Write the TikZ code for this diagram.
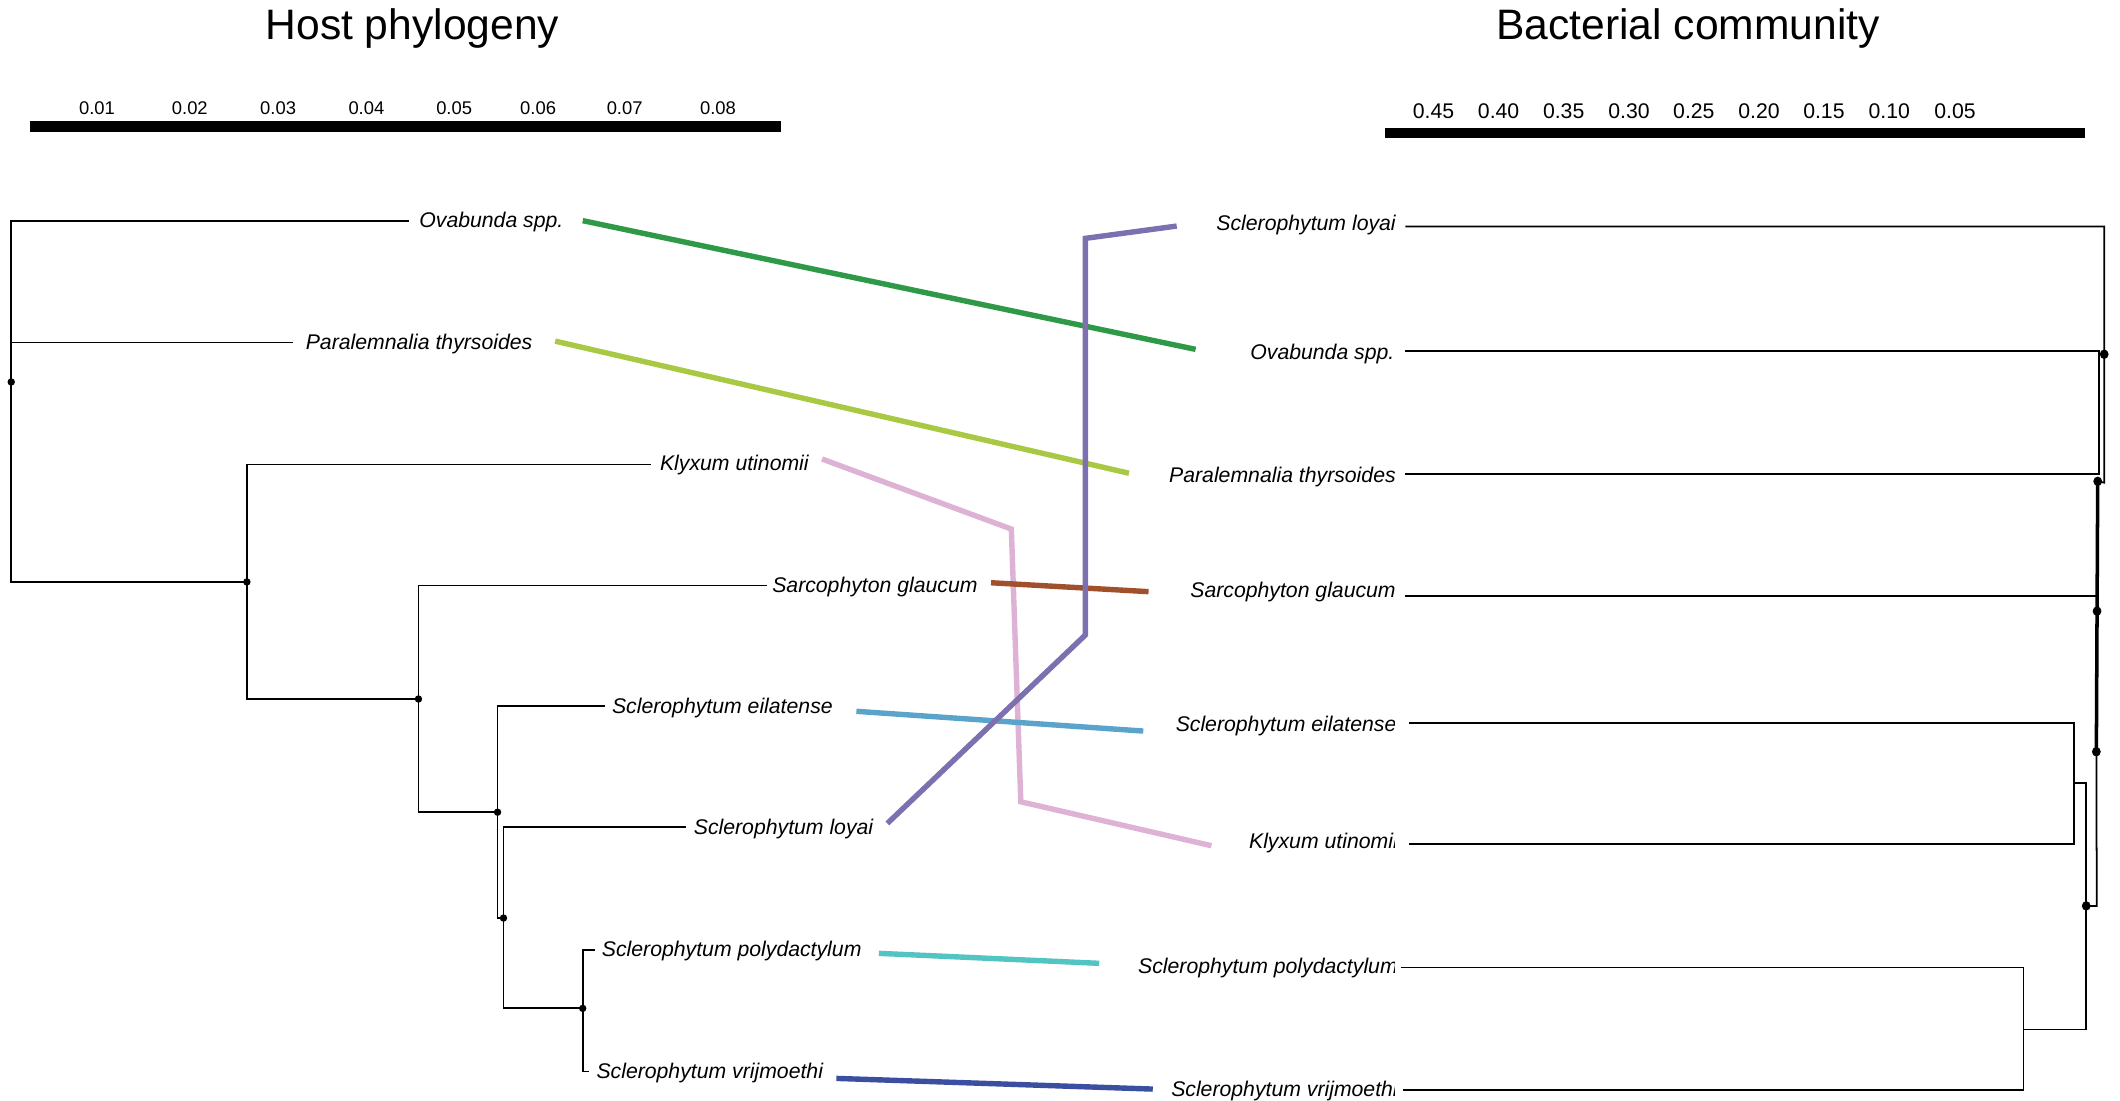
\documentclass[tikz,border=0pt]{standalone}
\usepackage{fontspec}
\setmainfont{Liberation Sans}
\usetikzlibrary{shapes.geometric}
\definecolor{cgreen}{HTML}{2E9A48}
\definecolor{cyellow}{HTML}{A9C843}
\definecolor{cpink}{HTML}{DDB2D5}
\definecolor{cbrown}{HTML}{A0502A}
\definecolor{cblue}{HTML}{5AA3CB}
\definecolor{cpurple}{HTML}{7C70B0}
\definecolor{cteal}{HTML}{52C4C2}
\definecolor{cnavy}{HTML}{3B4FA0}
\begin{document}
\begin{tikzpicture}[x=1pt,y=-1pt,
  tree/.style={line width=1.3pt, line cap=rect},
  thick tree/.style={line width=2.6pt},
  link/.style={line width=4pt},
  sp/.style={font=\fontsize{15.7}{18}\selectfont\itshape, inner sep=0pt, text height=11pt, text depth=3.5pt, yshift=-1.5pt},
  ttl/.style={font=\fontsize{31.5}{36}\selectfont, inner sep=0pt},
  tickl/.style={font=\fontsize{13.6}{16}\selectfont, inner sep=0pt},
  tickr/.style={font=\fontsize{15.7}{18}\selectfont, inner sep=0pt},
  dotl/.style={fill, circle, inner sep=0pt, minimum size=5.5pt},
  dotr/.style={fill, ellipse, inner sep=0pt, minimum width=6.5pt, minimum height=7pt},
  scalebar/.style={line width=8pt}
]
\useasboundingbox (0,0) rectangle (1568,814);

% ---------- titles ----------
\node[ttl] (t1) at (305,21) {Host phylogeny};
\node[ttl] (t2) at (1248.5,21) {Bacterial community};

% ---------- scale bars ----------
\coordinate (sl1) at (22,93.3);  \coordinate (sl2) at (578,93.3);
\draw[scalebar] (sl1) -- (sl2);
\foreach \x/\t [count=\i] in {71.7/0.01,140.4/0.02,205.7/0.03,271/0.04,335.9/0.05,398/0.06,462/0.07,531/0.08}
  \node[tickl] (tl\i) at (\x,80) {\t};
\coordinate (sr1) at (1024.7,98.6); \coordinate (sr2) at (1542.3,98.6);
\draw[scalebar, line width=7.5pt] (sr1) -- (sr2);
\foreach \x/\t [count=\i] in {1060.3/0.45,1108.4/0.40,1156.5/0.35,1204.8/0.30,1252.8/0.25,1301/0.20,1349/0.15,1397.3/0.10,1446/0.05}
  \node[tickr] (tr\i) at (\x,82) {\t};

% ---------- host tree ----------
\node[sp, anchor=west] (hOva) at (310,163) {Ovabunda spp.};
\node[sp, anchor=west] (hPar) at (226,253) {Paralemnalia thyrsoides};
\node[sp, anchor=west] (hKly) at (488,343) {Klyxum utinomii};
\node[sp, anchor=west] (hSar) at (571,433) {Sarcophyton glaucum};
\node[sp, anchor=west] (hEil) at (452.5,522.5) {Sclerophytum eilatense};
\node[sp, anchor=west] (hLoy) at (513,612) {Sclerophytum loyai};
\node[sp, anchor=west] (hPol) at (445,702.5) {Sclerophytum polydactylum};
\node[sp, anchor=west] (hVri) at (441,792.5) {Sclerophytum vrijmoethi};

\coordinate (n0) at (8.3,282.5);
\coordinate (n1) at (182.6,430.4);
\coordinate (n2) at (309.5,517);
\coordinate (n3) at (368,600.7);
\coordinate (n4) at (372.4,679);
\coordinate (n5) at (431,745.8);

\draw[tree] (302,163.4) -- (8.3,163.4) -- (8.3,430.4) -- (n1);
\draw[tree] (8.3,253.4) -- (215.9,253.4);
\draw[tree] (481,343.5) -- (182.6,343.5) -- (182.6,517) -- (n2);
\draw[tree] (566.8,433) -- (309.5,433) -- (309.5,600.7) -- (n3);
\draw[tree] (447,522.4) -- (368,522.4) -- (368,679) -- (n4);
\draw[tree] (506.5,611.8) -- (372.4,611.8) -- (372.4,745.8) -- (n5);
\draw[tree] (439.5,702.5) -- (431,702.5) -- (431,792.5) -- (435,792.5);
\foreach \n in {n0,n1,n2,n3,n4,n5} \node[dotl] at (\n) {};

% ---------- bacterial dendrogram ----------
\node[sp, anchor=east] (bLoy) at (1032.5,165.5) {Sclerophytum loyai};
\node[sp, anchor=east] (bOva) at (1031.5,260.5) {Ovabunda spp.};
\node[sp, anchor=east] (bPar) at (1032.5,351.5) {Paralemnalia thyrsoides};
\node[sp, anchor=east] (bSar) at (1032.5,437) {Sarcophyton glaucum};
\begin{scope}
  \clip (800,500) rectangle (1031.2,830);
  \node[sp, anchor=east] (bEil) at (1033,536) {Sclerophytum eilatense};
  \node[sp, anchor=east] (bKly) at (1034,622.5) {Klyxum utinomii};
  \node[sp, anchor=east] (bPol) at (1034,715) {Sclerophytum polydactylum};
  \node[sp, anchor=east] (bVri) at (1034,805.5) {Sclerophytum vrijmoethi};
\end{scope}

\coordinate (m1) at (1556.3,262);
\coordinate (m2) at (1551.5,356);
\coordinate (m3) at (1551,452);
\coordinate (m4) at (1550.5,556);
\coordinate (m5) at (1543,670);
\coordinate (m6) at (1534,579);
\coordinate (m7) at (1496.6,761.4);

\draw[tree] (1040,167.6) -- (1556.3,167.6) -- (1556.3,357) -- (m2);
\draw[tree] (1040,259.4) -- (1552.3,259.4) -- (1552.3,350.6) -- (1040,350.6);
\draw[thick tree] (m2) -- (m4);
\draw[tree] (1040,441) -- (1550.8,441);
\draw[tree] (m4) -- (1550.8,670) -- (m5);
\draw[tree] (1043,535) -- (1534,535) -- (1534,624.5) -- (1043,624.5);
\draw[tree] (m6) -- (1543,579) -- (1543,761.4) -- (m7);
\draw[tree] (1037,715.5) -- (1496.6,715.5) -- (1496.6,806) -- (1038,806);
\foreach \n in {m1,m2,m3,m4,m5} \node[dotr] at (\n) {};

% ---------- links ----------
\coordinate (gA) at (431,163.2);   \coordinate (gB) at (884.3,258.4);
\coordinate (yA) at (410.6,252.3); \coordinate (yB) at (835,350);
\coordinate (pA) at (608,339.5);   \coordinate (pC1) at (748,391.3);
\coordinate (pC2) at (755,593);    \coordinate (pB) at (896,625.5);
\coordinate (brA) at (733,431);    \coordinate (brB) at (849.5,437.6);
\coordinate (blA) at (633.4,526.1);\coordinate (blB) at (845.6,540.7);
\coordinate (uA) at (656.3,609);   \coordinate (uC1) at (802.7,469.7);
\coordinate (uC2) at (802.7,176.3);\coordinate (uB) at (870.3,167.2);
\coordinate (tA) at (650,705.1);   \coordinate (tB) at (813,712.5);
\coordinate (vA) at (618.6,797.6); \coordinate (vB) at (852.6,805.5);

\draw[link, cgreen] (gA) -- (gB);
\draw[link, cyellow] (yA) -- (yB);
\draw[link, cpink] (pA) -- (pC1) -- (pC2) -- (pB);
\draw[link, cbrown] (brA) -- (brB);
\draw[link, cblue] (blA) -- (blB);
\draw[link, cpurple] (uA) -- (uC1) -- (uC2) -- (uB);
\draw[link, cteal] (tA) -- (tB);
\draw[link, cnavy] (vA) -- (vB);
\end{tikzpicture}
\end{document}
